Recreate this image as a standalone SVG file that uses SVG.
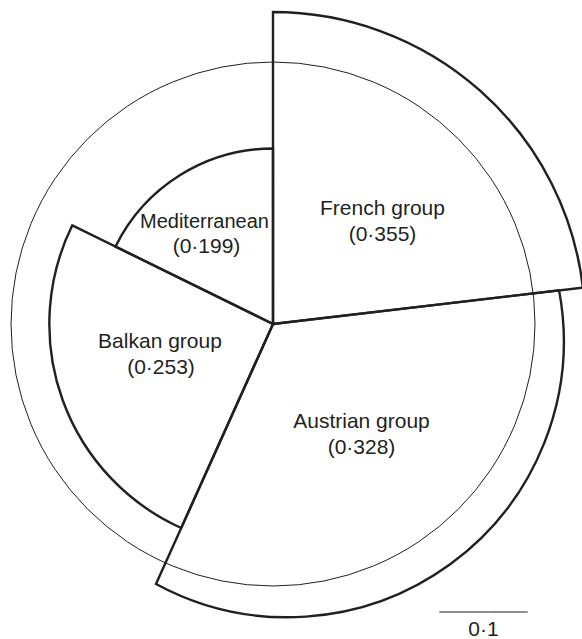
<svg xmlns="http://www.w3.org/2000/svg" width="582" height="639" viewBox="0 0 582 639">
<style>
.sector{fill:none;stroke:#231f20;stroke-width:2.4;stroke-linejoin:miter}
.thin{fill:none;stroke:#231f20;stroke-width:1}
.lbl{font-family:"Liberation Sans",Arial,sans-serif;font-size:21px;fill:#231f20;text-anchor:middle}
.small{font-size:20px}
</style>
<rect width="582" height="639" fill="#ffffff"/>
<circle id="ref-circle" class="thin" cx="273" cy="324" r="262"/>
<g id="french">
<path class="sector" d="M273,324 L273,12 A312,312 0 0 1 582.9,287.6 Z"/>
<text class="lbl" x="382.5" y="215">French group</text>
<text class="lbl" x="382.5" y="241">(0·355)</text>
</g>
<g id="austrian">
<path class="sector" d="M273,324 L559.1,290.4 A276.3,276.3 0 0 1 156,584 Z"/>
<text class="lbl" x="361.5" y="428">Austrian group</text>
<text class="lbl" x="361.5" y="454">(0·328)</text>
</g>
<g id="balkan">
<path class="sector" d="M273,324 L72.3,225.3 A223.7,223.7 0 0 0 181.2,528 Z"/>
<text class="lbl" x="160" y="348">Balkan group</text>
<text class="lbl" x="161" y="374">(0·253)</text>
</g>
<g id="mediterranean">
<path class="sector" d="M273,324 L273,148.5 A175.5,175.5 0 0 0 115.5,246.6 Z"/>
<text class="lbl small" x="204.5" y="228">Mediterranean</text>
<text class="lbl" x="206.5" y="253">(0·199)</text>
</g>
<g id="scale">
<line class="thin" x1="439.3" y1="612" x2="527.7" y2="612"/>
<text class="lbl" x="483.5" y="636">0·1</text>
</g>
</svg>
